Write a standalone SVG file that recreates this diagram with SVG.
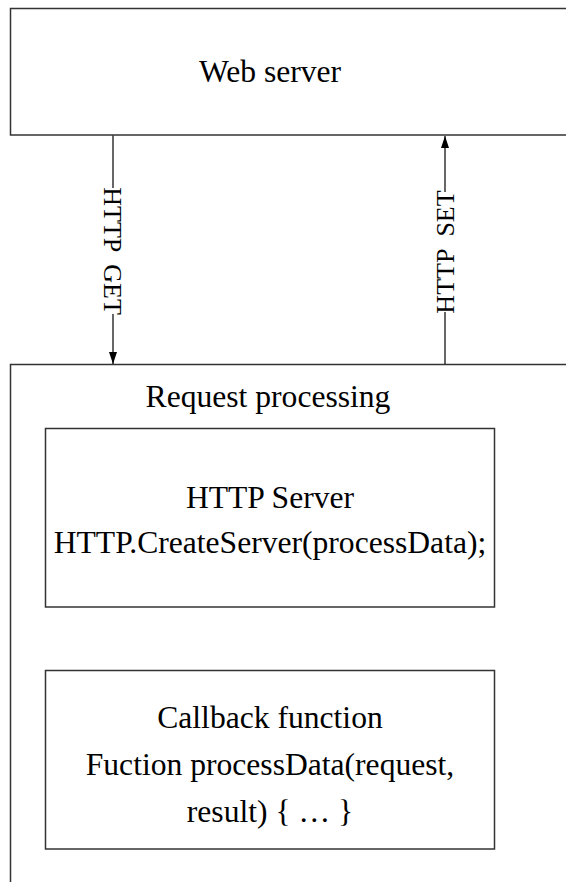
<svg xmlns="http://www.w3.org/2000/svg" width="566" height="882" viewBox="0 0 566 882">
<style>
  .box { fill: #ffffff; stroke: #333333; stroke-width: 1.5; }
  .t { font-family: "Liberation Serif", "Times New Roman", serif; font-size: 31.6px; fill: #000000; text-anchor: middle; }
  .lbl { font-family: "Liberation Serif", "Times New Roman", serif; font-size: 26px; fill: #000000; text-anchor: middle; white-space: pre; }
  .edge { stroke: #000000; stroke-width: 1.2; fill: none; }
</style>
<defs>
  <marker id="arrow" viewBox="0 0 12 8" refX="12" refY="4" markerWidth="12" markerHeight="8" markerUnits="userSpaceOnUse" orient="auto">
    <path d="M0,0 L12,4 L0,8 Z" fill="#000000"/>
  </marker>
</defs>
<rect width="566" height="882" fill="#ffffff"/>

<g id="web-server">
  <rect class="box" x="10.5" y="8.5" width="570" height="126.5"/>
  <text class="t" x="270" y="82">Web server</text>
</g>

<g id="request-processing">
  <rect class="box" x="10.5" y="364.5" width="570" height="530"/>
  <text class="t" x="268" y="407">Request processing</text>
</g>

<g id="http-server">
  <rect class="box" x="45.5" y="428.5" width="449" height="178.5"/>
  <text class="t" x="270" y="508">HTTP Server</text>
  <text class="t" x="270" y="553">HTTP.CreateServer(processData);</text>
</g>

<g id="callback-function">
  <rect class="box" x="45.5" y="670.5" width="449" height="178.5"/>
  <text class="t" x="270" y="728">Callback function</text>
  <text class="t" x="270" y="775">Fuction processData(request,</text>
  <text class="t" x="270" y="822">result) { … }</text>
</g>

<g id="connectors">
  <g id="http-get">
    <line class="edge" x1="113" y1="135.5" x2="113" y2="364" marker-end="url(#arrow)"/>
    <rect x="104" y="188" width="18" height="126" fill="#ffffff"/>
    <text class="lbl" xml:space="preserve" transform="translate(113,251) rotate(90)" x="0" y="8.6">HTTP  GET</text>
  </g>
  <g id="http-set">
    <line class="edge" x1="445" y1="364" x2="445" y2="136" marker-end="url(#arrow)"/>
    <rect x="436" y="192" width="18" height="120" fill="#ffffff"/>
    <text class="lbl" xml:space="preserve" transform="translate(445,252) rotate(-90)" x="0" y="8.6">HTTP  SET</text>
  </g>
</g>
</svg>
